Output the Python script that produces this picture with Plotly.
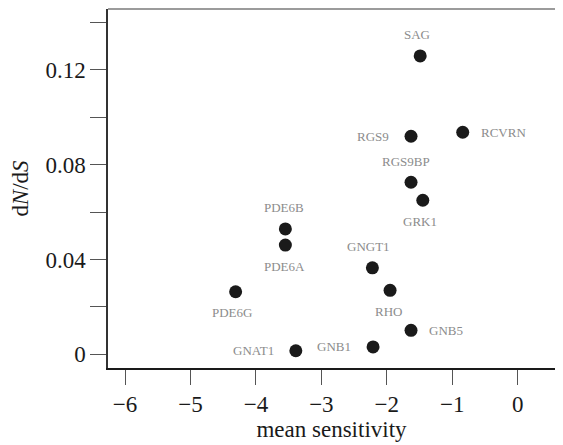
import plotly.graph_objects as go

genes = ["SAG", "RGS9", "RCVRN", "RGS9BP", "GRK1", "PDE6B", "PDE6A",
         "GNGT1", "RHO", "PDE6G", "GNB5", "GNB1", "GNAT1"]
mean_sensitivity = [-1.49, -1.63, -0.84, -1.63, -1.45, -3.55, -3.55,
                    -2.22, -1.95, -4.31, -1.63, -2.21, -3.39]
dn_ds = [0.1259, 0.0920, 0.0937, 0.0726, 0.0650, 0.0529, 0.0461,
         0.0365, 0.0270, 0.0264, 0.0101, 0.0031, 0.0015]

x_ticks = [-6, -5, -4, -3, -2, -1, 0]
x_tick_labels = ["\u22126", "\u22125", "\u22124", "\u22123", "\u22122", "\u22121", "0"]
y_ticks = [0, 0.02, 0.04, 0.06, 0.08, 0.10, 0.12, 0.14]
y_tick_labels = ["0", "", "0.04", "", "0.08", "", "0.12", ""]

# label placement (style): side and pixel offsets
label_place = {
    "SAG": ("above", -3), "RGS9": ("left", 0), "RCVRN": ("right", 0),
    "RGS9BP": ("above", -5), "GRK1": ("below", -3), "PDE6B": ("above", -1),
    "PDE6A": ("below", -1), "GNGT1": ("above", -4), "RHO": ("below", -2),
    "PDE6G": ("below", -4), "GNB5": ("right", 0), "GNB1": ("left", 0),
    "GNAT1": ("left", 0),
}

FONT = "Liberation Serif, Times New Roman, serif"

fig = go.Figure()
fig.add_trace(go.Scatter(
    x=mean_sensitivity, y=dn_ds, mode="markers",
    marker=dict(size=13, color="#1a1a1a"),
    showlegend=False, hoverinfo="skip",
))

annotations = []
for g, xv, yv in zip(genes, mean_sensitivity, dn_ds):
    side, dx = label_place[g]
    a = dict(x=xv, y=yv, xref="x", yref="y", text=g, showarrow=False,
             font=dict(family=FONT, size=13, color="#8c8c8c"))
    if side == "above":
        a.update(xanchor="center", yanchor="middle", yshift=21, xshift=dx)
    elif side == "below":
        a.update(xanchor="center", yanchor="middle", yshift=-21, xshift=dx)
    elif side == "left":
        a.update(xanchor="right", yanchor="middle", xshift=-20)
    else:
        a.update(xanchor="left", yanchor="middle", xshift=16)
    annotations.append(a)

# page body has an 8px margin, so the figure is sized to fit the window
fig.update_layout(
    width=547, height=437,
    margin=dict(l=100, r=0, t=1, b=77),
    plot_bgcolor="white", paper_bgcolor="white",
    font=dict(family=FONT, size=23, color="#1a1a1a"),
    annotations=annotations,
    shapes=[dict(type="line", xref="paper", yref="paper", x0=0, x1=1, y0=1, y1=1,
                 line=dict(color="#7a7a7a", width=1.5))],
    xaxis=dict(
        range=[-6.26, 0.57], tickvals=x_ticks, ticktext=x_tick_labels,
        ticks="outside", ticklen=15, tickwidth=1.2, tickcolor="#555",
        showline=True, linecolor="#1a1a1a", linewidth=1.5,
        showgrid=False, zeroline=False, automargin=False,
        title=dict(text="mean sensitivity", font=dict(size=23), standoff=0),
    ),
    yaxis=dict(
        range=[-0.00578, 0.1457], tickvals=y_ticks, ticktext=y_tick_labels,
        ticks="outside", ticklen=16, tickwidth=1.2, tickcolor="#555",
        showline=True, linecolor="#333", linewidth=1.5,
        showgrid=False, zeroline=False, automargin=False,
        title=dict(text="d<i>N</i>/d<i>S</i>", font=dict(size=23), standoff=13),
    ),
)

fig.write_html("out.html")
